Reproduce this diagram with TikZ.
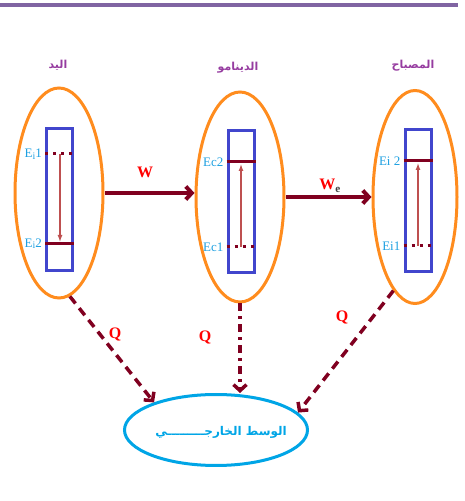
\documentclass[tikz,border=0pt]{standalone}
\usepackage{xcolor}
\usepackage{fontspec}
\setmainfont{Liberation Serif}
\newfontfamily\arabicfont[Script=Arabic]{DejaVu Sans}
\TeXXeTstate=1
\usepackage{tikz}
\usetikzlibrary{shapes.geometric,arrows.meta}
\definecolor{barpurple}{RGB}{128,100,162}
\definecolor{ringorange}{RGB}{255,140,30}
\definecolor{boxblue}{RGB}{65,70,205}
\definecolor{maroon}{RGB}{128,0,32}
\definecolor{levelarrow}{RGB}{190,80,80}
\definecolor{labelcyan}{RGB}{30,160,225}
\definecolor{envcyan}{RGB}{0,165,230}
\definecolor{titlepurple}{RGB}{150,60,160}

\begin{document}
\begin{tikzpicture}[x=1pt,y=1pt]
		\tikzset{system/.style={ellipse, draw=ringorange, line width=3pt, inner sep=0pt, minimum width=88pt, minimum height=210pt}};
		\tikzset{levelbox/.style={rectangle, draw=boxblue, line width=3pt, inner sep=0pt, minimum width=26pt, minimum height=142pt}};
		\tikzset{flow/.style={draw=maroon, line width=4pt, -{Straight Barb[length=6pt,width=13pt]}}};
		\tikzset{heat/.style={draw=maroon, line width=3.5pt, dash pattern=on 9pt off 6pt, -{Straight Barb[length=6pt,width=13pt]}}};
		\tikzset{full/.style={draw=maroon, line width=3pt}};
		\tikzset{empty/.style={draw=maroon, line width=3pt, dash pattern=on 3pt off 5pt}};
		\tikzset{jump/.style={draw=levelarrow, line width=1.3pt, -{Latex[length=7pt,width=5pt]}}};
		\tikzset{lvl/.style={text=labelcyan, font=\fontsize{13}{13}\selectfont, anchor=east, inner sep=1pt}};
		\tikzset{qlabel/.style={text=red, font=\fontsize{16}{16}\selectfont\bfseries}};
		\tikzset{title/.style={text=titlepurple, font=\arabicfont\fontsize{11}{11}\selectfont\bfseries}};
		\useasboundingbox (0,0) rectangle (464,501);
		\draw[barpurple, line width=4pt] (0,496) -- (458,496);

		% the three systems
		\node[system] (hand) at (59,308) {};
		\node[system] (dynamo) at (240,304) {};
		\node[system, minimum width=84pt, minimum height=213pt] (lamp) at (415,304) {};
		\node[title] (handname) at (58,436) {\beginR اليد\endR};
		\node[title] (dynamoname) at (238,433) {\beginR الدينامو\endR};
		\node[title] (lampname) at (413,435) {\beginR المصباح\endR};

		% energy levels
		\node[levelbox] (hbox) at (59.5,301.5) {};
		\node[levelbox] (dbox) at (241,299.5) {};
		\node[levelbox] (lbox) at (418,300.5) {};
		\coordinate (h1) at (60,347); \coordinate (h2) at (60,257);
		\coordinate (d2) at (241,339); \coordinate (d1) at (241,254);
		\coordinate (l2) at (418,340); \coordinate (l1) at (418,255);
		\draw[empty] (hbox.west |- h1) -- (hbox.east |- h1);
		\draw[full] (hbox.west |- h2) -- (hbox.east |- h2);
		\draw[full] (dbox.west |- d2) -- (dbox.east |- d2);
		\draw[empty] (dbox.west |- d1) -- (dbox.east |- d1);
		\draw[full] (lbox.west |- l2) -- (lbox.east |- l2);
		\draw[empty] (lbox.west |- l1) -- (lbox.east |- l1);
		\draw[jump] (h1) -- ([yshift=2pt]h2);
		\draw[jump] (d1) -- ([yshift=-2pt]d2);
		\draw[jump] (l1) -- ([yshift=-2pt]l2);
		\node[lvl] (hE1) at ([xshift=-2pt]hbox.west |- h1) {E\raisebox{-1.5pt}{\fontsize{10}{10}\selectfont i}1};
		\node[lvl] (hE2) at ([xshift=-2pt]hbox.west |- h2) {E\raisebox{-1pt}{\fontsize{10}{10}\selectfont i}2};
		\node[lvl] (dE2) at ([xshift=-2pt]dbox.west |- d2) {Ec2};
		\node[lvl] (dE1) at ([xshift=-2pt]dbox.west |- d1) {Ec1};
		\node[lvl] (lE2) at ([xshift=-2pt]lbox.west |- l2) {Ei 2};
		\node[lvl] (lE1) at ([xshift=-2pt]lbox.west |- l1) {Ei1};

		% work
		\draw[flow] (hand.east) -- (hand.east -| dynamo.west);
		\draw[flow] (dynamo.east) -- (dynamo.east -| lamp.west);
		\node[qlabel] (wlabel) at (145,329) {W};
		\node[qlabel] (welabel) at (330,315) {W\textsubscript{\textcolor{darkgray}{e}}};

		% heat to the surroundings
		\node[ellipse, draw=envcyan, line width=3pt, inner sep=0pt, minimum width=183pt, minimum height=71pt] (env) at (216,71) {};
		\node[text=envcyan, font=\arabicfont\fontsize{12}{12}\selectfont\bfseries] (envname) at (221,69) {\beginR الوسط الخارجـــــــــي\endR};
		\draw[heat] (hand.-84) -- (env.156);
		\draw[heat, dash pattern=on 8pt off 5pt on 3pt off 5pt] (dynamo.south) -- (env.north -| dynamo.south);
		\draw[heat] (lamp.-103) -- (env.12);
		\node[qlabel] (q1) at (115,166) {Q};
		\node[qlabel] (q2) at (205,163) {Q};
		\node[qlabel] (q3) at (342,183) {Q};
	\end{tikzpicture}
\end{document}
